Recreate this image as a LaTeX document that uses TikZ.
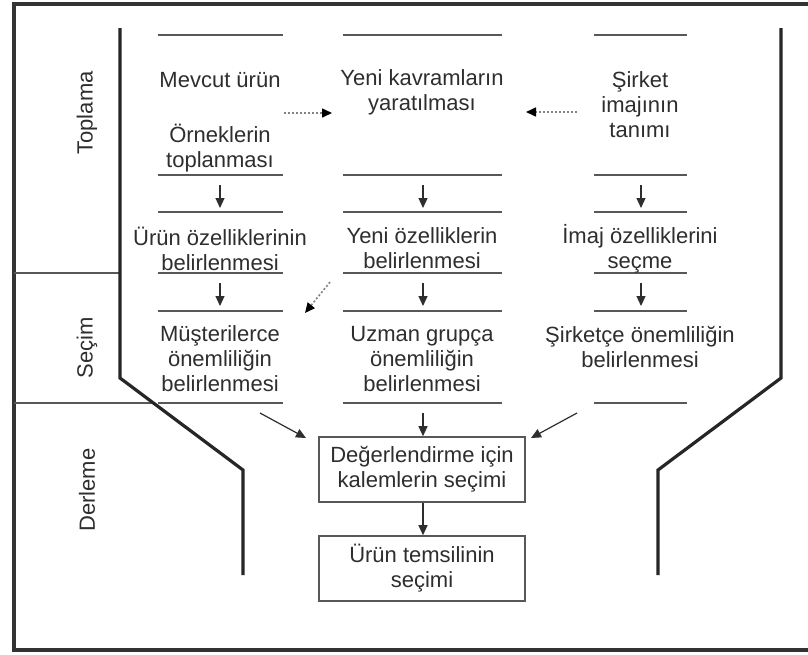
\documentclass[tikz,border=0pt]{standalone}
\usepackage{fontspec}
\setmainfont{Liberation Sans}
\usetikzlibrary{arrows.meta}
\definecolor{ink}{gray}{0.18}
\begin{document}
\begin{tikzpicture}[x=0.5pt,y=-0.5pt,
  every node/.style={text=ink,font=\fontsize{11}{12.5}\selectfont,align=center,inner sep=0pt},
  frame/.style={draw=black!80,line width=1.7pt},
  funnel/.style={draw=black!85,line width=1.6pt},
  rule/.style={draw=ink!80,line width=0.8pt},
  tip/.style={-{Triangle[length=5pt,width=4.5pt]}},
  flow/.style={tip,draw=ink,line width=0.6pt},
  hint/.style={-{Triangle[length=5pt,width=4.5pt,color=black]},draw=ink!60,line width=0.8pt,dash pattern=on 1pt off 1pt},
  box/.style={draw=ink!80,line width=0.8pt,minimum width=103pt,minimum height=32.5pt}]
\useasboundingbox (0,0) rectangle (808,654);
\fill[white] (0,0) rectangle (808,654);

% outer frame, open past the right edge
\draw[frame] (830,4) -- (14,4) -- (14,650) -- (830,650);

% phase dividers
\draw[rule,line width=1pt] (14,273) -- (120,273);
\draw[rule,line width=1pt] (14,403) -- (153,403);

% funnel walls
\draw[funnel] (120,28) -- (120,378) -- (243,470) -- (243,575);
\draw[funnel] (781,28) -- (781,378) -- (658,470) -- (658,575);

% phase labels
\node[rotate=90] (lt) at (87,113) {Toplama};
\node[rotate=90] (ls) at (87,348) {Seçim};
\node[rotate=90] (ld) at (87,490) {Derleme};

% column rules
\foreach \yy in {35,175,212,273,311,403} {
  \draw[rule] (158,\yy) -- (283,\yy);
  \draw[rule] (343,\yy) -- (502,\yy);
  \draw[rule] (594,\yy) -- (687,\yy);
}

% column texts
\node (m1) at (220,80) {Mevcut ürün};
\node (m2) at (220,148.5) {Örneklerin\\toplanması};
\node (c1) at (422,92.5) {Yeni kavramların\\yaratılması};
\node (s1) at (640,105) {Şirket\\imajının\\tanımı};
\node (m3) at (220,248.5) {Ürün özelliklerinin\\belirlenmesi};
\node (c3) at (422,248.5) {Yeni özelliklerin\\belirlenmesi};
\node (s3) at (640,248.5) {İmaj özelliklerini\\seçme};
\node (m4) at (220,359) {Müşterilerce\\önemliliğin\\belirlenmesi};
\node (c4) at (422,359) {Uzman grupça\\önemliliğin\\belirlenmesi};
\node (s4) at (640,347) {Şirketçe önemliliğin\\belirlenmesi};

% compilation boxes
\node[box] (b1) at (422,469.5) {Değerlendirme için\\kalemlerin seçimi};
\node[box] (b2) at (422,568.5) {Ürün temsilinin\\seçimi};

% arrow ends
\coordinate (m2o) at (220,185); \coordinate (m3i) at (220,208);
\coordinate (c2o) at (423,185); \coordinate (c3i) at (423,208);
\coordinate (s2o) at (641,185); \coordinate (s3i) at (641,208);
\coordinate (m3o) at (220,283); \coordinate (m4i) at (220,306);
\coordinate (c3o) at (423,283); \coordinate (c4i) at (423,306);
\coordinate (s3o) at (641,283); \coordinate (s4i) at (641,306);
\coordinate (m1o) at (284,113); \coordinate (c1l) at (332,113);
\coordinate (s1o) at (577,112); \coordinate (c1r) at (526,112);
\coordinate (c3d) at (330,282); \coordinate (m4d) at (305,313);
\coordinate (m4o) at (260,413); \coordinate (b1l) at (306,438);
\coordinate (c4o) at (423,413);
\coordinate (s4o) at (577,413); \coordinate (b1r) at (531,438);

% dotted hints between columns
\draw[hint] (m1o) -- (c1l);
\draw[hint] (s1o) -- (c1r);
\draw[hint] (c3d) -- (m4d);

% vertical flow
\draw[flow] (m2o) -- (m3i);
\draw[flow] (c2o) -- (c3i);
\draw[flow] (s2o) -- (s3i);
\draw[flow] (m3o) -- (m4i);
\draw[flow] (c3o) -- (c4i);
\draw[flow] (s3o) -- (s4i);

% convergence into the funnel neck
\draw[flow] (m4o) -- (b1l);
\draw[flow] (c4o) -- (b1.north -| c4o);
\draw[flow] (s4o) -- (b1r);
\draw[flow] (b1.south -| c4o) -- (b2.north -| c4o);
\end{tikzpicture}
\end{document}
